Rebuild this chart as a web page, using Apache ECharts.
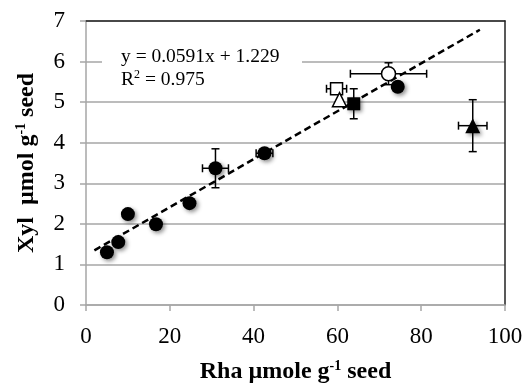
<!DOCTYPE html>
<html>
<head>
<meta charset="utf-8">
<script src="https://cdn.jsdelivr.net/npm/echarts@6/dist/echarts.min.js"></script>
<style>
html,body{margin:0;padding:0;background:#fff;}
#container{width:531px;height:384px;}
</style>
</head>
<body>
<div id="container"></div>
<script>
// data: [Rha, Xyl]
var solidCircles = [[5.0,1.30],[7.7,1.55],[10.0,2.24],[16.7,1.99],[24.7,2.51],[30.9,3.37],[42.6,3.74],[74.4,5.38]];
var solidSquare = [[63.9,4.96]];
var openSquare = [[59.8,5.33]];
var openTriangle = [[60.5,5.06]];
var openCircle = [[72.2,5.70]];
var solidTriangle = [[92.3,4.42]];
// error bars: [x, y, xErr, yErr]
var errorBars = [
  [30.9,3.37,3.1,0.48],
  [42.6,3.74,2.0,0],
  [63.9,4.96,0,0.37],
  [59.8,5.33,2.4,0],
  [72.2,5.70,9.1,0.27],
  [92.3,4.42,3.4,0.64]
];
// trendline y = 0.0591x + 1.229
var slope = 0.0591, intercept = 1.229;
var trendX = [2, 94];

var trend = trendX.map(function(x){ return [x, slope*x + intercept]; });

var myChart = echarts.init(document.getElementById('container'));
var serif = 'Liberation Serif';
function markStyle(fill){
  if(fill==='#fff'){
    return {color:'#fff', opacity:1, borderColor:'#000', borderWidth:1.5};
  }
  return {color:fill, opacity:1, borderWidth:0,
    shadowBlur:4, shadowColor:'rgba(0,0,0,0.45)', shadowOffsetX:2, shadowOffsetY:2};
}

var option = {
  animation:false,
  grid:{left:86, right:26, top:21, bottom:79, containLabel:false, outerBoundsMode:'none'},
  xAxis:[{
    type:'value', min:0, max:100, interval:20,
    axisLine:{lineStyle:{color:'#a6a6a6', width:1.5}},
    axisTick:{show:true, length:6, lineStyle:{color:'#a6a6a6', width:1.5}},
    splitLine:{show:false},
    axisLabel:{fontFamily:serif, fontSize:23, color:'#000', margin:20},
    name:'Rha µmole g{s|-1} seed',
    nameLocation:'middle', nameGap:54,
    nameTextStyle:{fontFamily:serif, fontSize:24, fontWeight:'bold', color:'#000',
      rich:{s:{fontFamily:serif, fontSize:14, fontWeight:'bold', verticalAlign:'top', padding:[0,0,12,0]}}}
  },{
    type:'value', position:'top', min:0, max:100,
    axisLine:{show:true, onZero:false, lineStyle:{color:'#222', width:1.5}},
    axisTick:{show:false}, axisLabel:{show:false}, splitLine:{show:false}
  }],
  yAxis:[{
    type:'value', min:0, max:7, interval:1,
    axisLine:{show:true, lineStyle:{color:'#a6a6a6', width:1.5}},
    axisTick:{show:true, length:6, lineStyle:{color:'#a6a6a6', width:1.5}},
    splitLine:{show:true, lineStyle:{color:'#a6a6a6', width:1.5}},
    axisLabel:{fontFamily:serif, fontSize:23, color:'#000', margin:21, padding:[8,0,0,0]},
    name:'Xyl  µmol g{s|-1} seed',
    nameLocation:'middle', nameGap:46,
    nameTextStyle:{fontFamily:serif, fontSize:24, fontWeight:'bold', color:'#000',
      rich:{s:{fontFamily:serif, fontSize:14, fontWeight:'bold', padding:[0,0,12,0]}}}
  },{
    type:'value', position:'right', min:0, max:7,
    axisLine:{show:true, onZero:false, lineStyle:{color:'#222', width:1.5}},
    axisTick:{show:false}, axisLabel:{show:false}, splitLine:{show:false}
  }],
  graphic:[{
    type:'rect', left:102, top:38, shape:{width:200, height:58}, style:{fill:'#fff'}, z:5
  },{
    type:'text', left:121, top:47, z:6,
    style:{text:'y = 0.0591x + 1.229', font:'19.5px "Liberation Serif"', fill:'#000'}
  },{
    type:'text', left:121, top:69, z:6,
    style:{text:'{n|R}{s|2}{n| = 0.975}', font:'19.5px "Liberation Serif"', fill:'#000',
      rich:{n:{fontFamily:serif, fontSize:19.5}, s:{fontFamily:serif, fontSize:12, padding:[0,0,9,0]}}}
  }],
  series:[
    {type:'line', data:trend, symbol:'none', z:3,
     lineStyle:{color:'#000', width:2.5, type:[7,4]}},
    {type:'custom', z:4, data:errorBars,
     renderItem:function(params, api){
       var x=api.value(0), y=api.value(1), xe=api.value(2), ye=api.value(3);
       var kids=[], cap=4, st={stroke:'#000', lineWidth:1.5};
       if(xe>0){
         var a=api.coord([x-xe,y]), b=api.coord([x+xe,y]);
         kids.push({type:'line', shape:{x1:a[0],y1:a[1],x2:b[0],y2:b[1]}, style:st});
         kids.push({type:'line', shape:{x1:a[0],y1:a[1]-cap,x2:a[0],y2:a[1]+cap}, style:st});
         kids.push({type:'line', shape:{x1:b[0],y1:b[1]-cap,x2:b[0],y2:b[1]+cap}, style:st});
       }
       if(ye>0){
         var c=api.coord([x,y-ye]), d=api.coord([x,y+ye]);
         kids.push({type:'line', shape:{x1:c[0],y1:c[1],x2:d[0],y2:d[1]}, style:st});
         kids.push({type:'line', shape:{x1:c[0]-cap,y1:c[1],x2:c[0]+cap,y2:c[1]}, style:st});
         kids.push({type:'line', shape:{x1:d[0]-cap,y1:d[1],x2:d[0]+cap,y2:d[1]}, style:st});
       }
       return {type:'group', children:kids};
     }},
    {type:'scatter', data:solidSquare, symbol:'rect', symbolSize:13, z:5, itemStyle:markStyle('#000')},
    {type:'scatter', data:openSquare, symbol:'rect', symbolSize:12, z:5, itemStyle:markStyle('#fff')},
    {type:'scatter', data:openTriangle, symbol:'triangle', symbolSize:14, z:5, itemStyle:markStyle('#fff')},
    {type:'scatter', data:solidCircles, symbol:'circle', symbolSize:14, z:5, itemStyle:markStyle('#000')},
    {type:'scatter', data:openCircle, symbol:'circle', symbolSize:14, z:5, itemStyle:markStyle('#fff')},
    {type:'scatter', data:solidTriangle, symbol:'triangle', symbolSize:15, z:5, itemStyle:markStyle('#000')}
  ]
};
myChart.setOption(option);
</script>
</body>
</html>
